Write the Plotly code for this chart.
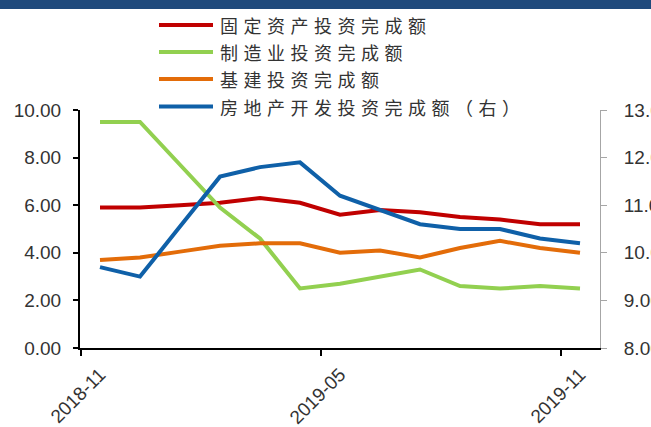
import plotly.graph_objects as go

months = ["2018-11", "2018-12", "2019-01", "2019-02", "2019-03", "2019-04", "2019-05",
          "2019-06", "2019-07", "2019-08", "2019-09", "2019-10", "2019-11"]
fai = [5.9, 5.9, 6.0, 6.1, 6.3, 6.1, 5.6, 5.8, 5.7, 5.5, 5.4, 5.2, 5.2]
manufacturing = [9.5, 9.5, 7.7, 5.9, 4.6, 2.5, 2.7, 3.0, 3.3, 2.6, 2.5, 2.6, 2.5]
infrastructure = [3.7, 3.8, 4.05, 4.3, 4.4, 4.4, 4.0, 4.1, 3.8, 4.2, 4.5, 4.2, 4.0]
real_estate = [9.7, 9.5, 10.55, 11.6, 11.8, 11.9, 11.2, 10.9, 10.6, 10.5, 10.5, 10.3, 10.2]
tick_months = ["2018-11", "2019-05", "2019-11"]

names = ["固定资产投资完成额", "制造业投资完成额", "基建投资完成额", "房地产开发投资完成额（右）"]
colors = ["#C00000", "#92D050", "#E36C09", "#0F60A8"]

W, H = 651, 427
L, R, T, B = 80, 51, 110, 79
pw, ph = W - L - R, H - T - B

def px_x(px):
    return (px - L) / pw

def px_y(py):
    return (H - B - py) / ph

xi = list(range(len(months)))
fig = go.Figure()
series = [fai, manufacturing, infrastructure, real_estate]
for k, (nm, ys, c) in enumerate(zip(names, series, colors)):
    fig.add_trace(go.Scatter(
        x=xi, y=ys, name=nm, mode="lines",
        line=dict(color=c, width=4),
        yaxis="y2" if k == 3 else "y",
        showlegend=False,
    ))

label_vals = [months.index(m) for m in tick_months]
boundary_vals = [months.index(m) - 0.47 for m in tick_months]

fig.update_layout(
    width=W, height=H,
    margin=dict(l=L, r=R, t=T, b=B, autoexpand=False),
    paper_bgcolor="white", plot_bgcolor="white",
    font=dict(family="Liberation Sans, Arial", size=19, color="#333333"),
    xaxis=dict(
        range=[-0.5, 12.5], tickmode="array", tickvals=label_vals, ticktext=tick_months,
        tickangle=-45, showgrid=False, zeroline=False, automargin=False,
        showline=True, linecolor="black", linewidth=2,
        ticks="", ticklabelstandoff=6,
        minor=dict(tickmode="array", tickvals=boundary_vals, ticks="outside",
                   ticklen=6, tickwidth=2, tickcolor="black", showgrid=False),
        tickfont=dict(size=19, color="#333333"),
    ),
    yaxis=dict(
        range=[0, 10], dtick=2, tickformat=".2f", showgrid=False, zeroline=False,
        automargin=False,
        showline=True, linecolor="black", linewidth=2,
        ticks="outside", ticklen=5, tickwidth=2, tickcolor="black",
        ticklabelstandoff=8,
        tickfont=dict(size=19, color="#333333"),
    ),
    yaxis2=dict(
        range=[8, 13], dtick=1, tickformat=".2f", overlaying="y", side="right",
        showgrid=False, zeroline=False, automargin=False,
        showline=True, linecolor="#A6A6A6", linewidth=1,
        ticks="outside", ticklen=6, tickwidth=1, tickcolor="#A6A6A6",
        ticklabelstandoff=13,
        tickfont=dict(size=19, color="#333333"),
    ),
    showlegend=False,
)

# top band
fig.add_shape(type="rect", xref="paper", yref="paper",
              x0=px_x(-5), x1=px_x(W + 5), y0=px_y(9), y1=px_y(-5),
              fillcolor="#1F4A7C", line=dict(width=0), layer="above")

# manual legend
rows = [25, 52, 79, 106.5]
for nm, c, ry in zip(names, colors, rows):
    fig.add_shape(type="line", xref="paper", yref="paper",
                  x0=px_x(159), x1=px_x(213), y0=px_y(ry), y1=px_y(ry),
                  line=dict(color=c, width=4), layer="above")
    fig.add_annotation(xref="paper", yref="paper", x=px_x(218), y=px_y(ry),
                       text='<span style="letter-spacing:5.5px">' + nm + '</span>',
                       showarrow=False, xanchor="left", yanchor="middle",
                       font=dict(family="Noto Sans CJK SC", size=18, color="#333333"))

fig.write_html("out.html")
